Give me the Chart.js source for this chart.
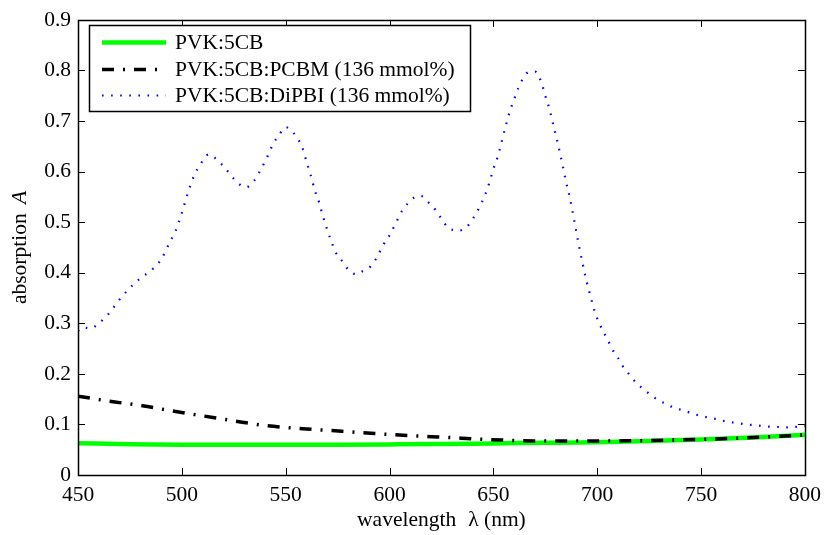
<!DOCTYPE html>
<html><head><meta charset="utf-8">
<script src="https://cdn.jsdelivr.net/npm/chart.js@4.4.1/dist/chart.umd.min.js"></script>
<style>html,body{margin:0;padding:0;background:#fff}#wrap{width:828px;height:535px}</style>
</head><body><div id="wrap"><canvas id="c" width="828" height="535"></canvas></div>
<script>
const seriesLabels = ['PVK:5CB', 'PVK:5CB:PCBM (136 mmol%)', 'PVK:5CB:DiPBI (136 mmol%)'];
const xTicks = [450, 500, 550, 600, 650, 700, 750, 800];
const yTicks = [0, 0.1, 0.2, 0.3, 0.4, 0.5, 0.6, 0.7, 0.8, 0.9];

const greenX = [450, 475, 500, 525, 550, 575, 600, 625, 650, 675, 700, 725, 750, 775, 800];
const greenY = [0.063, 0.061, 0.060, 0.0598, 0.0598, 0.060, 0.0605, 0.0612, 0.0625, 0.0637, 0.065, 0.067, 0.070, 0.074, 0.0795];

const blackX = [450, 465, 481, 495, 510, 525, 540, 560, 577, 593, 609, 631, 639, 655, 676, 700, 724, 750, 772, 794, 800];
const blackY = [0.156, 0.146, 0.137, 0.127, 0.117, 0.107, 0.098, 0.091, 0.0865, 0.082, 0.078, 0.0736, 0.0716, 0.069, 0.067, 0.0672, 0.068, 0.0705, 0.0736, 0.078, 0.0795];

const blueX = [450, 452, 456, 460, 465, 470, 475, 480, 485, 490, 494, 497, 500, 503, 506, 509, 513, 517, 521, 525, 528, 531, 535, 538, 541, 544, 547, 550, 553, 556, 558, 560, 562, 564, 566, 568, 570, 572, 574, 577, 580, 584, 587, 591, 594, 597, 600, 603, 606, 609, 612, 615, 619, 622, 625, 628, 631, 633, 637, 640, 643, 646, 648, 650, 652, 654, 656, 658, 660, 662, 664, 667, 670, 673, 675, 677, 679, 681, 683, 685, 687, 689, 691, 693, 695, 697, 699, 701, 703, 705, 707, 710, 712, 715, 718, 721, 725, 729, 733, 737, 742, 747, 752, 757, 762, 767, 772, 777, 781, 786, 790, 795, 800];
const blueY = [0.285, 0.292, 0.290, 0.300, 0.320, 0.347, 0.370, 0.389, 0.404, 0.426, 0.459, 0.483, 0.518, 0.559, 0.593, 0.615, 0.634, 0.623, 0.606, 0.586, 0.574, 0.569, 0.583, 0.604, 0.628, 0.655, 0.674, 0.688, 0.680, 0.664, 0.648, 0.620, 0.594, 0.563, 0.540, 0.511, 0.485, 0.462, 0.441, 0.424, 0.407, 0.397, 0.403, 0.413, 0.431, 0.455, 0.474, 0.498, 0.522, 0.538, 0.549, 0.552, 0.538, 0.525, 0.507, 0.490, 0.484, 0.483, 0.490, 0.506, 0.527, 0.554, 0.577, 0.605, 0.628, 0.659, 0.691, 0.720, 0.743, 0.765, 0.782, 0.797, 0.798, 0.778, 0.750, 0.724, 0.690, 0.656, 0.619, 0.580, 0.545, 0.502, 0.458, 0.418, 0.381, 0.350, 0.321, 0.300, 0.283, 0.268, 0.250, 0.232, 0.217, 0.201, 0.186, 0.174, 0.161, 0.149, 0.141, 0.133, 0.127, 0.120, 0.115, 0.111, 0.106, 0.103, 0.100, 0.098, 0.096, 0.0955, 0.094, 0.095, 0.097];

const FONT = '"Liberation Serif", "Times New Roman", serif';
const FS = 21.5;
const pts = (xs, ys) => xs.map((x, i) => ({x: x, y: ys[i]}));

const frameTicks = {
  id: 'frameTicks',
  afterDatasetsDraw(chart) {
    const ctx = chart.ctx, a = chart.chartArea, sx = chart.scales.x, sy = chart.scales.y;
    ctx.save();
    ctx.strokeStyle = '#000'; ctx.lineWidth = 1;
    const L = 7;
    ctx.beginPath();
    xTicks.forEach(v => {
      const p = Math.round(sx.getPixelForValue(v)) + 0.5;
      ctx.moveTo(p, a.bottom); ctx.lineTo(p, a.bottom - L);
      ctx.moveTo(p, a.top); ctx.lineTo(p, a.top + L);
    });
    yTicks.forEach(v => {
      const p = Math.round(sy.getPixelForValue(v)) + 0.5;
      ctx.moveTo(a.left, p); ctx.lineTo(a.left + L, p);
      ctx.moveTo(a.right, p); ctx.lineTo(a.right - L, p);
    });
    ctx.stroke();
    ctx.lineWidth = 1.5;
    ctx.strokeRect(Math.round(a.left) + 0.5, Math.round(a.top) + 0.5, Math.round(a.right - a.left), Math.round(a.bottom - a.top));
    // legend box
    const lx = 89, ly = 25, lw = 381, lh = 86;
    ctx.fillStyle = '#fff';
    ctx.fillRect(lx, ly, lw, lh);
    ctx.lineWidth = 1.5;
    ctx.strokeRect(lx + 0.5, ly + 0.5, lw, lh);
    const rows = [42.5, 69.5, 95.5];
    chart.data.datasets.forEach((ds, i) => {
      const y = rows[i];
      ctx.save();
      ctx.strokeStyle = ds.borderColor;
      ctx.lineWidth = ds.borderWidth;
      ctx.setLineDash(ds.borderDash || []);
      ctx.beginPath(); ctx.moveTo(102, y); ctx.lineTo(166, y); ctx.stroke();
      ctx.restore();
      ctx.fillStyle = '#000';
      ctx.font = FS + 'px ' + FONT;
      ctx.textAlign = 'left'; ctx.textBaseline = 'middle';
      ctx.fillText(ds.label, 175, y + 1);
    });
    // axis titles
    ctx.fillStyle = '#000';
    ctx.textBaseline = 'middle';
    ctx.font = FS + 'px ' + FONT;
    const t1 = 'wavelength', t2 = '\u03bb (nm)', gap = 12;
    const w1 = ctx.measureText(t1).width, w2 = ctx.measureText(t2).width;
    const cx = (a.left + a.right) / 2;
    const sxp = cx - (w1 + gap + w2) / 2;
    ctx.textAlign = 'left';
    ctx.fillText(t1, sxp, 520);
    ctx.fillText(t2, sxp + w1 + gap, 520);
    ctx.save();
    ctx.translate(20, (a.top + a.bottom) / 2);
    ctx.rotate(-Math.PI / 2);
    const p1 = 'absorption ', p2 = 'A';
    ctx.font = FS + 'px ' + FONT;
    const v1 = ctx.measureText(p1).width + 4;
    ctx.font = 'italic ' + FS + 'px ' + FONT;
    const v2 = ctx.measureText(p2).width;
    const start = -(v1 + v2) / 2;
    ctx.textAlign = 'left';
    ctx.font = FS + 'px ' + FONT;
    ctx.fillText(p1, start, 0);
    ctx.font = 'italic ' + FS + 'px ' + FONT;
    ctx.fillText(p2, start + v1, 0);
    ctx.restore();
    ctx.restore();
  }
};

new Chart(document.getElementById('c'), {
  type: 'line',
  data: {
    datasets: [
      {label: seriesLabels[0], data: pts(greenX, greenY), borderColor: '#00ff00', borderWidth: 4.5, pointRadius: 0, cubicInterpolationMode: 'monotone', order: 3},
      {label: seriesLabels[1], data: pts(blackX, blackY), borderColor: '#000', borderWidth: 3.5, borderDash: [12, 9, 2, 9], pointRadius: 0, cubicInterpolationMode: 'monotone', order: 2},
      {label: seriesLabels[2], data: pts(blueX, blueY), borderColor: '#0000ff', borderWidth: 2.2, borderDash: [1.6, 7.5], pointRadius: 0, cubicInterpolationMode: 'monotone', order: 1}
    ]
  },
  options: {
    responsive: false,
    animation: false,
    layout: {padding: {top: 14, right: 19, left: 0, bottom: 0}},
    plugins: {legend: {display: false}, tooltip: {enabled: false}},
    scales: {
      x: {
        type: 'linear', min: 450, max: 800,
        afterBuildTicks: s => { s.ticks = xTicks.map(v => ({value: v})); },
        afterFit: s => { s.height = 60; },
        grid: {display: false, drawTicks: false},
        border: {display: false},
        ticks: {color: '#000', font: {family: FONT, size: FS}, padding: 7, maxRotation: 0, callback: v => String(v)}
      },
      y: {
        type: 'linear', min: 0, max: 0.9,
        afterBuildTicks: s => { s.ticks = yTicks.map(v => ({value: v})); },
        afterFit: s => { s.width = 78; },
        grid: {display: false, drawTicks: false},
        border: {display: false},
        ticks: {color: '#000', font: {family: FONT, size: FS}, padding: 7, callback: v => (v === 0 ? '0' : v.toFixed(1))}
      }
    }
  },
  plugins: [frameTicks]
});
</script>
</body></html>
